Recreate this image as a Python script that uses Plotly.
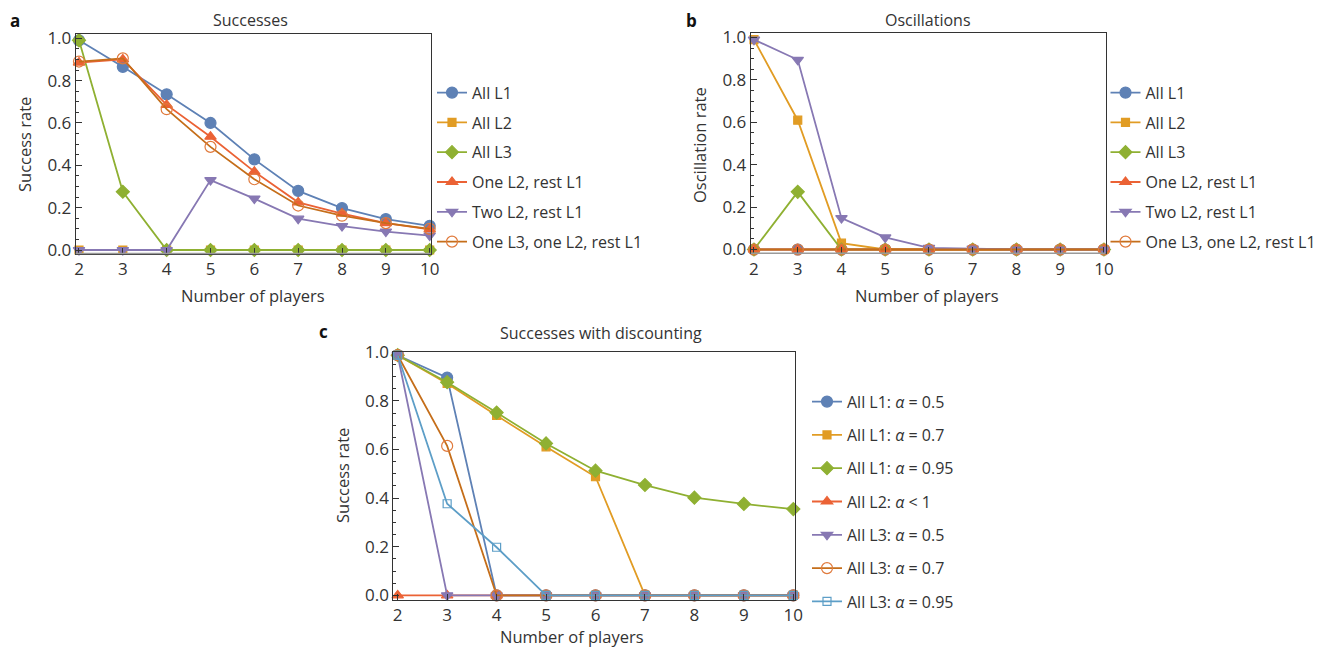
import plotly.graph_objects as go

OFF = 8  # page body margin of the browser
W, H = 1321 - OFF, 648 - OFF

players = [2, 3, 4, 5, 6, 7, 8, 9, 10]

# Panel a: success rate
a_all_l1 = [0.99, 0.865, 0.735, 0.600, 0.428, 0.279, 0.198, 0.146, 0.114]
a_all_l2 = [0, 0, 0, 0, 0, 0, 0, 0, 0]
a_all_l3 = [0.99, 0.275, 0, 0, 0, 0, 0, 0, 0]
a_one_l2 = [0.885, 0.900, 0.685, 0.535, 0.370, 0.225, 0.172, 0.127, 0.097]
a_two_l2 = [0, 0, 0, 0.330, 0.243, 0.148, 0.113, 0.087, 0.068]
a_one_l3 = [0.890, 0.905, 0.665, 0.487, 0.334, 0.210, 0.162, 0.127, 0.100]

# Panel b: oscillation rate
b_all_l1 = [0, 0, 0, 0, 0, 0, 0, 0, 0]
b_all_l2 = [0.99, 0.610, 0.030, 0, 0, 0, 0, 0, 0]
b_all_l3 = [0, 0.272, 0, 0, 0, 0, 0, 0, 0]
b_one_l2 = [0, 0, 0, 0, 0, 0, 0, 0, 0]
b_two_l2 = [0.99, 0.895, 0.148, 0.057, 0.008, 0.004, 0, 0, 0]
b_one_l3 = [0, 0, 0, 0, 0, 0, 0, 0, 0]

# Panel c: success rate with discounting
c_l1_05 = [0.988, 0.896, 0, 0, 0, 0, 0, 0, 0]
c_l1_07 = [0.988, 0.872, 0.740, 0.611, 0.488, 0, 0, 0, 0]
c_l1_095 = [0.988, 0.877, 0.752, 0.625, 0.513, 0.454, 0.402, 0.376, 0.355]
c_l2 = [0, 0, 0, 0, 0, 0, 0, 0, 0]
c_l3_05 = [0.988, 0, 0, 0, 0, 0, 0, 0, 0]
c_l3_07 = [0.988, 0.615, 0, 0, 0, 0, 0, 0, 0]
c_l3_095 = [0.988, 0.377, 0.198, 0, 0, 0, 0, 0, 0]

names_ab = ["All L1", "All L2", "All L3", "One L2, rest L1", "Two L2, rest L1",
            "One L3, one L2, rest L1"]
names_c = ["All L1: <i>α</i> = 0.5", "All L1: <i>α</i> = 0.7", "All L1: <i>α</i> = 0.95",
           "All L2: <i>α</i> &lt; 1", "All L3: <i>α</i> = 0.5", "All L3: <i>α</i> = 0.7",
           "All L3: <i>α</i> = 0.95"]

BLUE, ORANGE, GREEN, RED, PURPLE, BROWN, LBLUE = (
    "#5E81B5", "#E19C24", "#8FB032", "#EB6235", "#8778B3", "#C56E1A", "#5D9EC7")

styles = [
    dict(color=BLUE, symbol="circle", size=11, mcolor=BLUE),
    dict(color=ORANGE, symbol="square", size=8, mcolor=ORANGE),
    dict(color=GREEN, symbol="diamond", size=10, mcolor=GREEN),
    dict(color=RED, symbol="triangle-up", size=10, mcolor=RED),
    dict(color=PURPLE, symbol="triangle-down", size=10, mcolor=PURPLE),
    dict(color=BROWN, symbol="circle-open", size=11, mcolor="#E07A3C"),
    dict(color=LBLUE, symbol="square-open", size=8, mcolor=LBLUE),
]

FONT = "Open Sans"
TXT = "#333333"

fig = go.Figure()


def add(panel, ys, name, st, legend, group):
    xa = {"a": "x", "b": "x2", "c": "x3"}[panel]
    ya = {"a": "y", "b": "y2", "c": "y3"}[panel]
    fig.add_trace(go.Scatter(
        x=players, y=ys, name=name, mode="lines+markers",
        xaxis=xa, yaxis=ya, legend=legend, legendgroup=group,
        line=dict(color=st["color"], width=1.8),
        marker=dict(symbol=st["symbol"], size=st["size"], color=st["mcolor"],
                    line=dict(width=1.2, color=st["mcolor"])),
        cliponaxis=False,
    ))


for i, ys in enumerate([a_all_l1, a_all_l2, a_all_l3, a_one_l2, a_two_l2, a_one_l3]):
    add("a", ys, names_ab[i], styles[i], "legend", f"a{i}")
for i, ys in enumerate([b_all_l1, b_all_l2, b_all_l3, b_one_l2, b_two_l2, b_one_l3]):
    add("b", ys, names_ab[i], styles[i], "legend2", f"b{i}")
for i, ys in enumerate([c_l1_05, c_l1_07, c_l1_095, c_l2, c_l3_05, c_l3_07, c_l3_095]):
    add("c", ys, names_c[i], styles[i], "legend3", f"c{i}")


# positions below are given in reference-image pixels and shifted by OFF
def dom_x(x0, x1):
    return [(x0 - OFF) / W, (x1 - OFF) / W]


def dom_y(top, bottom):
    return [1 - (bottom - OFF) / H, 1 - (top - OFF) / H]


def px(x, y):
    return (x - OFF) / W, 1 - (y - OFF) / H


def xaxis(domain, rng, anchor):
    return dict(domain=domain, range=rng, anchor=anchor,
                tickvals=players, ticks="inside", ticklen=6, tickcolor="#333",
                showline=True, linecolor="#333", linewidth=1, mirror=True,
                showgrid=False, zeroline=False, automargin=False,
                tickfont=dict(family=FONT, size=17, color=TXT))


def yaxis(domain, rng, anchor):
    return dict(domain=domain, range=rng, anchor=anchor,
                tickvals=[0, 0.2, 0.4, 0.6, 0.8, 1.0], tickformat=".1f",
                ticks="inside", ticklen=6, tickcolor="#333",
                minor=dict(ticks="inside", ticklen=3, dtick=0.05, tick0=0, tickcolor="#333"),
                showline=True, linecolor="#333", linewidth=1, mirror=True,
                showgrid=False, zeroline=False, automargin=False,
                tickfont=dict(family=FONT, size=17, color=TXT))


annotations = []


def text(x, y, s, size=15, bold=False, angle=0, top=False):
    xx, yy = px(x, y)
    ann = dict(x=xx, y=yy, xref="paper", yref="paper", text=f"<b>{s}</b>" if bold else s,
               showarrow=False, xanchor="center", yanchor="middle",
               textangle=angle, borderpad=0,
               font=dict(family=FONT, size=size, color="#111" if bold else TXT))
    if top:
        ann.update(y=1, yanchor="top")
    annotations.append(ann)


TS = 16.5
text(15, 17, "a", 17, bold=True, top=True)
text(250, 20, "Successes", 16, top=True)
text(253, 295, "Number of players", TS)
text(24, 145, "Success rate", TS, angle=-90)
text(691, 16, "b", 17, bold=True, top=True)
text(928, 16, "Oscillations", 16, top=True)
text(927, 295, "Number of players", TS)
text(699, 145, "Oscillation rate", TS, angle=-90)
text(323, 331, "c", 17, bold=True)
text(601, 333, "Successes with discounting", 16)
text(572, 636, "Number of players", TS)
text(342, 475, "Success rate", TS, angle=-90)

legend_common = dict(xanchor="left", yanchor="top", bgcolor="rgba(0,0,0,0)",
                     font=dict(family=FONT, size=16, color=TXT), itemclick=False)

lx, ly = px(432, 75.7)
l2x, l2y = px(1105.5, 75.7)
l3x, l3y = px(807, 384.7)

shapes = []
for xr, yr in [("x domain", "y domain"), ("x2 domain", "y2 domain")]:
    shapes.append(dict(type="line", xref=xr, yref=yr, x0=0, x1=1, y0=0, y1=0,
                       line=dict(color="#9a9a9a", width=1.6), layer="above"))

fig.update_layout(
    width=W, height=H, margin=dict(l=0, r=0, t=0, b=0, autoexpand=False),
    paper_bgcolor="white", plot_bgcolor="white",
    xaxis=xaxis(dom_x(75.7, 431), [1.925, 10.03], "y"),
    yaxis=yaxis(dom_y(34, 253.5), [-0.0165, 1.02], "x"),
    xaxis2=xaxis(dom_x(750.7, 1105.7), [1.925, 10.04], "y2"),
    yaxis2=yaxis(dom_y(33.3, 253.3), [-0.018, 1.02], "x2"),
    xaxis3=xaxis(dom_x(393.3, 795), [1.911, 10.034], "y3"),
    yaxis3=yaxis(dom_y(352.3, 599.5), [-0.017, 1.0], "x3"),
    legend=dict(x=lx, y=ly, tracegroupgap=6, **legend_common),
    legend2=dict(x=l2x, y=l2y, tracegroupgap=6, **legend_common),
    legend3=dict(x=l3x, y=l3y, tracegroupgap=9.5, **legend_common),
    annotations=annotations,
    shapes=shapes,
    showlegend=True,
)

fig.write_html("out.html")
